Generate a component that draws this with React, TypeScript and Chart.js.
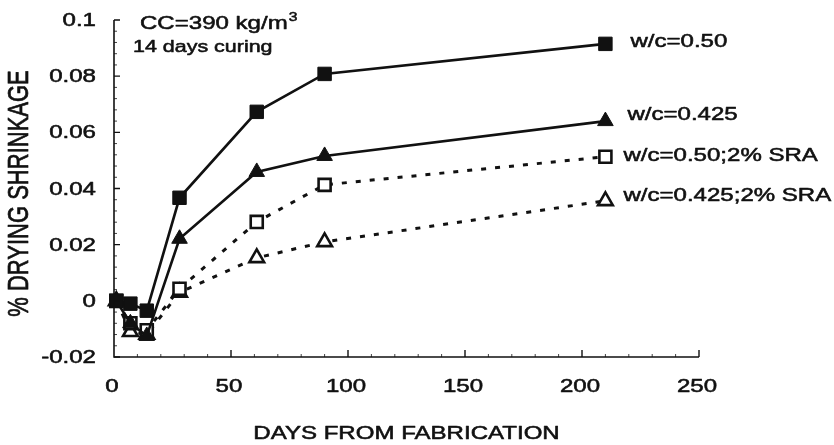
import React, { useEffect, useRef } from "react";
import { Chart, registerables } from "chart.js";

Chart.register(...registerables);

// ---- data ----
const days = [1, 7, 14, 28, 61, 90, 210];
const wc050 = [0.0, -0.001, -0.0035, 0.0367, 0.0673, 0.0808, 0.0915];
const wc0425 = [0.0, -0.008, -0.0125, 0.0221, 0.0459, 0.0516, 0.064];
const wc050sra = [0.0, -0.008, -0.0105, 0.0043, 0.0281, 0.0413, 0.0513];
const wc0425sra = [0.0, -0.011, -0.012, 0.003, 0.0153, 0.021, 0.0356];

const seriesLabels = ["w/c=0.50", "w/c=0.425", "w/c=0.50;2% SRA", "w/c=0.425;2% SRA"];
const xTickValues = [0, 50, 100, 150, 200, 250];
const xTickLabels = ["0", "50", "100", "150", "200", "250"];
const yTickValues = [-0.02, 0, 0.02, 0.04, 0.06, 0.08, 0.1];
const yTickLabels = ["-0.02", "0", "0.02", "0.04", "0.06", "0.08", "0.1"];
const xTitle = "DAYS FROM FABRICATION";
const yTitle = "% DRYING SHRINKAGE";
const noteMain = "CC=390 kg/m";
const noteSup = "3";
const noteSub = "14 days curing";

const FONT = '"Liberation Sans", Arial, Helvetica, sans-serif';
const SX = 1.3; // horizontal stretch of the scanned lettering
const INK = "#111";

function stretchedText(
  ctx: CanvasRenderingContext2D,
  text: string,
  x: number,
  y: number,
  size: number,
  align: CanvasTextAlign,
  baseline: CanvasTextBaseline,
  rotate = false
) {
  ctx.save();
  ctx.translate(x, y);
  ctx.scale(SX, 1);
  if (rotate) ctx.rotate(-Math.PI / 2);
  ctx.font = `${size}px ${FONT}`;
  ctx.fillStyle = INK;
  ctx.strokeStyle = INK;
  ctx.lineWidth = 0.55;
  ctx.lineJoin = "round";
  ctx.textAlign = align;
  ctx.textBaseline = baseline;
  ctx.fillText(text, 0, 0);
  ctx.strokeText(text, 0, 0);
  ctx.restore();
}

function textWidth(ctx: CanvasRenderingContext2D, text: string, size: number) {
  ctx.save();
  ctx.font = `${size}px ${FONT}`;
  const w = ctx.measureText(text).width * SX;
  ctx.restore();
  return w;
}

const decorPlugin = {
  id: "decor",
  afterDraw(chart: any) {
    const ctx: CanvasRenderingContext2D = chart.ctx;
    const xs = chart.scales.x;
    const ys = chart.scales.y;
    const left = xs.left;
    const right = xs.right;
    const bottom = ys.bottom;
    const top = ys.getPixelForValue(0.1);

    ctx.save();
    ctx.strokeStyle = INK;
    ctx.lineWidth = 1.6;
    ctx.beginPath();
    ctx.moveTo(left, top);
    ctx.lineTo(left, bottom);
    ctx.lineTo(right, bottom);
    ctx.stroke();

    // y major ticks (inside)
    ctx.lineWidth = 1.4;
    ctx.beginPath();
    yTickValues.forEach((v) => {
      const p = ys.getPixelForValue(v);
      ctx.moveTo(left, p);
      ctx.lineTo(left + 6, p);
    });
    // x major ticks (inside)
    xTickValues.forEach((v) => {
      if (v === 0) return;
      const p = xs.getPixelForValue(v);
      ctx.moveTo(p, bottom);
      ctx.lineTo(p, bottom - 7);
    });
    ctx.stroke();

    // minor ticks
    ctx.lineWidth = 0.8;
    ctx.beginPath();
    for (let i = -5; i <= 25; i++) {
      if (i % 5 === 0) continue;
      const p = ys.getPixelForValue(i * 0.004);
      ctx.moveTo(left, p);
      ctx.lineTo(left + 3, p);
    }
    for (let d = 10; d < 250; d += 10) {
      if (d % 50 === 0) continue;
      const p = xs.getPixelForValue(d);
      ctx.moveTo(p, bottom);
      ctx.lineTo(p, bottom - 3);
    }
    ctx.stroke();
    ctx.restore();

    // tick labels
    yTickValues.forEach((v, i) => {
      stretchedText(ctx, yTickLabels[i], left - 18, ys.getPixelForValue(v) + 1, 18.5, "right", "middle");
    });
    xTickValues.forEach((v, i) => {
      stretchedText(ctx, xTickLabels[i], xs.getPixelForValue(v) - 2, bottom + 30, 18.5, "center", "middle");
    });

    // axis titles
    stretchedText(ctx, xTitle, (left + right) / 2, 434, 18.5, "center", "middle");
    stretchedText(ctx, yTitle, 20, (ys.top + bottom) / 2 + 5, 22, "center", "middle", true);

    // note
    stretchedText(ctx, noteMain, 140, 29, 18.5, "left", "alphabetic");
    const w = textWidth(ctx, noteMain, 18.5);
    stretchedText(ctx, noteSup, 140 + w + 1, 21, 12, "left", "alphabetic");
    stretchedText(ctx, noteSub, 133, 52, 16.5, "left", "alphabetic");

    // series labels at line ends
    const offsets = [
      [25, -2],
      [22, -6],
      [18, -1],
      [18, -5],
    ];
    chart.data.datasets.forEach((ds: any, i: number) => {
      const meta = chart.getDatasetMeta(i);
      const last = meta.data[meta.data.length - 1];
      stretchedText(ctx, seriesLabels[i], last.x + offsets[i][0], last.y + offsets[i][1], 18.5, "left", "middle");
    });
  },
};

export default function App() {
  const ref = useRef<HTMLCanvasElement | null>(null);

  useEffect(() => {
    document.body.style.margin = "0";
    const canvas = ref.current;
    if (!canvas) return;
    const mk = (arr: number[]) => days.map((d, i) => ({ x: d, y: arr[i] }));
    const chart = new Chart(canvas, {
      type: "line",
      data: {
        datasets: [
          {
            label: seriesLabels[0],
            data: mk(wc050),
            borderColor: INK,
            backgroundColor: INK,
            borderWidth: 2.6,
            pointStyle: "rect",
            pointRadius: 9.5,
            pointBorderWidth: 1,
            pointBackgroundColor: INK,
            pointBorderColor: INK,
            tension: 0,
            clip: false,
          },
          {
            label: seriesLabels[1],
            data: mk(wc0425),
            borderColor: INK,
            backgroundColor: INK,
            borderWidth: 2.6,
            pointStyle: "triangle",
            pointRadius: 9,
            pointBorderWidth: 1,
            pointBackgroundColor: INK,
            pointBorderColor: INK,
            tension: 0,
            clip: false,
          },
          {
            label: seriesLabels[2],
            data: mk(wc050sra),
            borderColor: INK,
            backgroundColor: "#fff",
            borderWidth: 3,
            borderDash: [5, 9],
            pointStyle: "rect",
            pointRadius: 8.5,
            pointBorderWidth: 2.6,
            pointBackgroundColor: "#fff",
            pointBorderColor: INK,
            tension: 0,
            clip: false,
          },
          {
            label: seriesLabels[3],
            data: mk(wc0425sra),
            borderColor: INK,
            backgroundColor: "#fff",
            borderWidth: 3,
            borderDash: [5, 9],
            pointStyle: "triangle",
            pointRadius: 8.5,
            pointBorderWidth: 2.6,
            pointBackgroundColor: "#fff",
            pointBorderColor: INK,
            tension: 0,
            clip: false,
          },
        ],
      },
      options: {
        responsive: false,
        animation: false,
        devicePixelRatio: 1,
        layout: { padding: { top: 20, right: 135, left: 0, bottom: 0 } },
        plugins: { legend: { display: false }, tooltip: { enabled: false } },
        scales: {
          x: {
            type: "linear",
            min: 0,
            max: 250,
            grid: { display: false, drawTicks: false },
            border: { display: false },
            ticks: { display: false },
            afterFit: (s: any) => {
              s.height = 88;
            },
          },
          y: {
            type: "linear",
            min: -0.02,
            max: 0.1,
            grid: { display: false, drawTicks: false },
            border: { display: false },
            ticks: { display: false },
            afterFit: (s: any) => {
              s.width = 114;
            },
          },
        },
      },
      plugins: [decorPlugin],
    });
    return () => chart.destroy();
  }, []);

  return (
    <div style={{ width: 834, height: 445, background: "#fff" }}>
      <canvas ref={ref} width={834} height={445} />
    </div>
  );
}
